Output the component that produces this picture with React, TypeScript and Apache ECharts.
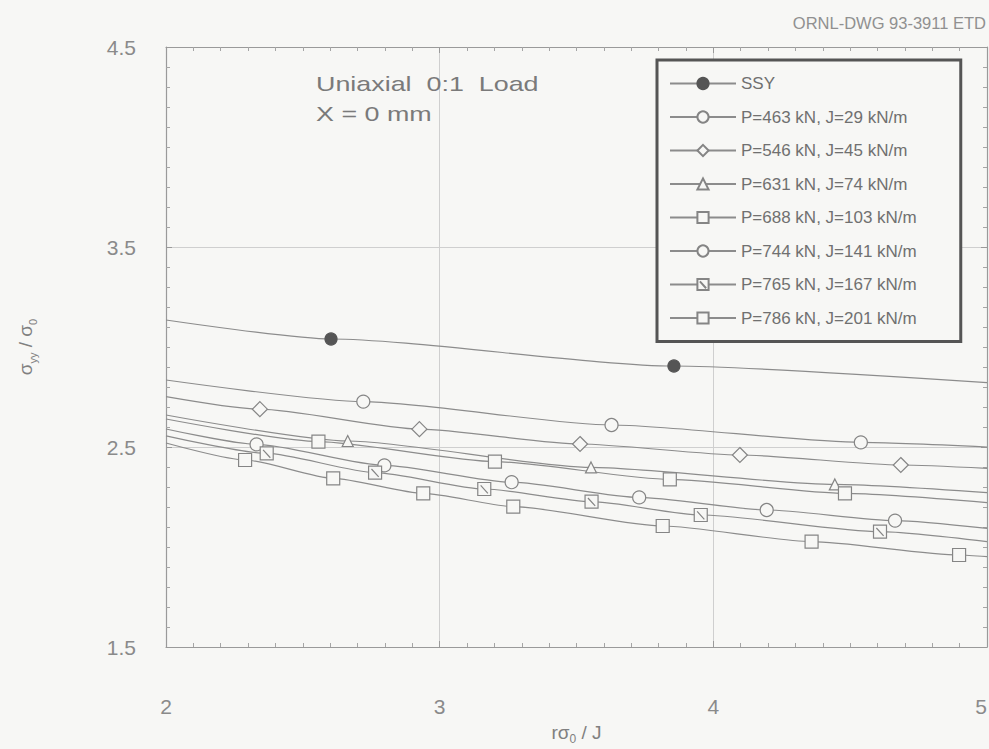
import React, { useEffect, useRef } from "react";
import * as echarts from "echarts";

// ---- Data ----
const legendNames = [
  "SSY",
  "P=463 kN, J=29 kN/m",
  "P=546 kN, J=45 kN/m",
  "P=631 kN, J=74 kN/m",
  "P=688 kN, J=103 kN/m",
  "P=744 kN, J=141 kN/m",
  "P=765 kN, J=167 kN/m",
  "P=786 kN, J=201 kN/m",
];

const xTickLabels = ["2", "3", "4", "5"];
const yTickLabels = ["1.5", "2.5", "3.5", "4.5"];

const ssyPoints = [[2.603, 3.04], [3.856, 2.905]];
const p463Points = [[2.721, 2.727], [3.628, 2.61], [4.539, 2.523]];
const p546Points = [[2.343, 2.689], [2.926, 2.589], [3.513, 2.515], [4.097, 2.46], [4.685, 2.41]];
const p631Points = [[2.664, 2.53], [3.553, 2.398], [4.444, 2.313]];
const p688Points = [[2.557, 2.527], [3.202, 2.427], [3.841, 2.338], [4.481, 2.268]];
const p744Points = [[2.331, 2.513], [2.798, 2.408], [3.263, 2.324], [3.729, 2.248], [4.195, 2.185], [4.664, 2.132]];
const p765Points = [[2.368, 2.468], [2.764, 2.372], [3.163, 2.29], [3.555, 2.227], [3.954, 2.16], [4.609, 2.077]];
const p786Points = [[2.289, 2.435], [2.611, 2.343], [2.94, 2.268], [3.269, 2.202], [3.815, 2.105], [4.359, 2.027], [4.898, 1.96]];

// fitted curve values read at the plot edges (x = 2 and x = 5)
const curveStartY = [3.135, 2.835, 2.752, 2.66, 2.64, 2.59, 2.556, 2.52];
const curveEndY = [2.822, 2.5, 2.393, 2.272, 2.222, 2.093, 2.027, 1.952];

const allPoints = [ssyPoints, p463Points, p546Points, p631Points, p688Points, p744Points, p765Points, p786Points];

// ---- Styling ----
const BG = "#f7f7f5";
const LINE = "#8c8c8c";
const TEXT = "#7a7a7a";
const FONT = "'Liberation Sans', Arial, Helvetica, sans-serif";
const SLASH_SQUARE = "path://M1,1H19V19H1Z M5,5L15,16";

const symbols = ["circle", "circle", "diamond", "triangle", "rect", "circle", SLASH_SQUARE, "rect"];
const symbolSizes = [12, 13, 15, 11, 13, 13, 13, 13];
const fills = ["#555555", BG, BG, BG, BG, BG, BG, BG];

export default function App() {
  const ref = useRef<HTMLDivElement>(null);

  useEffect(() => {
    if (!ref.current) return;
    const chart = echarts.init(ref.current, null, { renderer: "svg" });

    const series = legendNames.map((name, i) => ({
      type: "line",
      name,
      smooth: 0.22,
      smoothMonotone: "x",
      showSymbol: true,
      showAllSymbol: true,
      symbol: symbols[i],
      symbolSize: symbolSizes[i],
      silent: true,
      emphasis: { disabled: true },
      lineStyle: { color: LINE, width: 1.2 },
      itemStyle: { color: fills[i], borderColor: i === 0 ? "#555555" : "#858585", borderWidth: 1.2 },
      data: [
        { value: [2, curveStartY[i]], symbol: "none" },
        ...allPoints[i].map((p) => ({ value: p })),
        { value: [5, curveEndY[i]], symbol: "none" },
      ],
      z: 3,
    }));

    const tickCommon = {
      axisLine: { show: true, onZero: false, lineStyle: { color: "#9a9a9a", width: 1.2 } },
      axisTick: { show: true, inside: true, length: 6, lineStyle: { color: "#9a9a9a" } },
      minorTick: { show: true, splitNumber: 10, length: 4, lineStyle: { color: "#a5a5a5" } },
    };

    const option = {
      animation: false,
      backgroundColor: BG,
      textStyle: { fontFamily: FONT },
      grid: { left: 166, top: 47, right: 2, bottom: 102, containLabel: false, outerBoundsMode: "none" },
      xAxis: [
        {
          type: "value",
          min: 2,
          max: 5,
          interval: 1,
          position: "bottom",
          ...tickCommon,
          splitLine: { show: true, lineStyle: { color: "#cfcfcf", width: 1 } },
          axisLabel: {
            margin: 49,
            fontSize: 21,
            color: "#8a8a8a",
            fontFamily: FONT,
            alignMaxLabel: "right",
            formatter: (v: number) => xTickLabels.find((t) => Math.abs(parseFloat(t) - v) < 1e-6) ?? "",
          },
          name: "{a|rσ}{b|0}{a| / J}",
          nameLocation: "middle",
          nameGap: 72,
          nameTextStyle: {
            rich: {
              a: { fontSize: 19, color: "#808080", fontFamily: FONT, lineHeight: 26, verticalAlign: "middle" },
              b: { fontSize: 12, color: "#808080", fontFamily: FONT, lineHeight: 12, verticalAlign: "bottom" },
            },
          },
        },
        {
          type: "value",
          min: 2,
          max: 5,
          interval: 1,
          position: "top",
          ...tickCommon,
          splitLine: { show: false },
          axisLabel: { show: false },
        },
      ],
      yAxis: [
        {
          type: "value",
          min: 1.5,
          max: 4.5,
          interval: 1,
          position: "left",
          ...tickCommon,
          splitLine: { show: true, lineStyle: { color: "#cfcfcf", width: 1 } },
          axisLabel: {
            margin: 30,
            fontSize: 21,
            color: "#8a8a8a",
            fontFamily: FONT,
            formatter: (v: number) => yTickLabels.find((t) => Math.abs(parseFloat(t) - v) < 1e-6) ?? "",
          },
          name: "{a|σ}{b|yy}{a| / σ}{b|0}",
          nameLocation: "middle",
          nameRotate: 90,
          nameGap: 128,
          nameTextStyle: {
            rich: {
              a: { fontSize: 19, color: "#808080", fontFamily: FONT, lineHeight: 26, verticalAlign: "middle" },
              b: { fontSize: 11, color: "#808080", fontFamily: FONT, lineHeight: 11, verticalAlign: "bottom" },
            },
          },
        },
        {
          type: "value",
          min: 1.5,
          max: 4.5,
          interval: 1,
          position: "right",
          ...tickCommon,
          splitLine: { show: false },
          axisLabel: { show: false },
        },
      ],
      legend: {
        orient: "vertical",
        left: 657,
        top: 60,
        itemWidth: 66,
        itemHeight: 14,
        itemGap: 16.5,
        padding: [15, 44, 15, 12],
        borderColor: "#555555",
        borderWidth: 3,
        backgroundColor: BG,
        selectedMode: false,
        textStyle: { fontSize: 17, color: "#707070", fontFamily: FONT },
        data: legendNames,
        z: 6,
      },
      graphic: [
        {
          type: "text",
          left: 316,
          top: 73,
          scaleX: 1.28,
          style: { text: "Uniaxial  0:1  Load", fontSize: 21, fill: TEXT, fontFamily: FONT },
          z: 10,
        },
        {
          type: "text",
          left: 316,
          top: 103,
          scaleX: 1.28,
          style: { text: "X = 0 mm", fontSize: 21, fill: TEXT, fontFamily: FONT },
          z: 10,
        },
        {
          type: "text",
          right: 3,
          top: 14,
          style: { text: "ORNL-DWG 93-3911 ETD", fontSize: 16.5, fill: "#909090", fontFamily: FONT },
          z: 10,
        },
      ],
      series,
    };

    chart.setOption(option as any);
    return () => chart.dispose();
  }, []);

  return (
    <div
      ref={ref}
      style={{ position: "fixed", left: 0, top: 0, width: 989, height: 749, background: BG }}
    />
  );
}
